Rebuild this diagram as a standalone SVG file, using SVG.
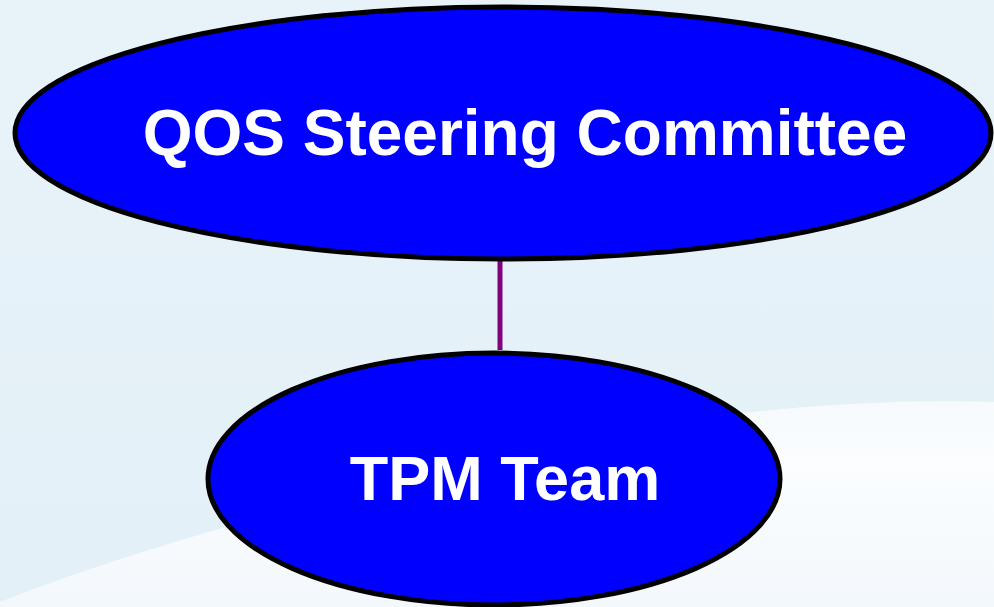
<svg xmlns="http://www.w3.org/2000/svg" width="994" height="607" viewBox="0 0 994 607">
<style>
.node{fill:#0000ff;stroke:#000;stroke-width:5}
.lbl{font-family:"Liberation Sans",Arial,sans-serif;font-weight:bold;fill:#fff;text-anchor:middle}
</style>
<defs>
<linearGradient id="bg" x1="0" y1="0" x2="0" y2="1">
<stop offset="0" stop-color="#e8f3f9"/>
<stop offset="1" stop-color="#e3f0f7"/>
</linearGradient>
<linearGradient id="wave" x1="0" y1="0" x2="0" y2="1">
<stop offset="0" stop-color="#f6fafd"/>
<stop offset="0.3" stop-color="#fbfdff"/>
<stop offset="1" stop-color="#f3f8fc"/>
</linearGradient>
</defs>
<rect width="994" height="607" fill="url(#bg)"/>
<path d="M0 607 L0 602 Q260 500 720 416 Q860 398 994 402 L994 607 Z" fill="url(#wave)"/>
<g id="connectors">
<line x1="500" y1="258" x2="500" y2="350" stroke="#800080" stroke-width="5"/>
</g>
<g id="qos">
<ellipse class="node" cx="503" cy="133" rx="488" ry="126"/>
<text class="lbl" x="525" y="155" font-size="64">QOS Steering Committee</text>
</g>
<g id="tpm">
<ellipse class="node" cx="494" cy="479" rx="286" ry="126"/>
<text class="lbl" x="505" y="500" font-size="63">TPM Team</text>
</g>
</svg>
